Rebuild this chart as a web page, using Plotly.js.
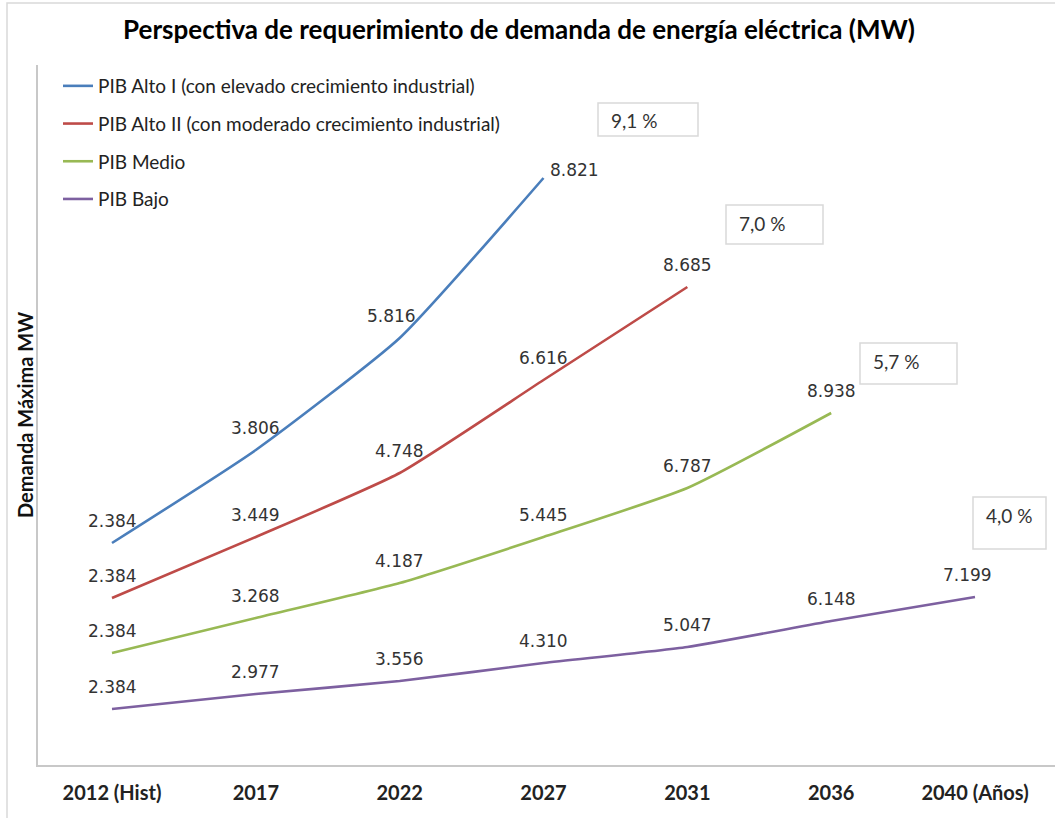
<!DOCTYPE html>
<html><head><meta charset="utf-8">
<script src="https://cdn.plot.ly/plotly-3.0.1.min.js"></script>
<style>html,body{margin:0;padding:0;background:#fff;} #chart{width:1055px;height:818px;}</style>
</head><body><div id="chart"></div>
<script>
// ---- data ----
const years = ['2012 (Hist)', '2017', '2022', '2027', '2031', '2036', '2040 (Años)'];
const seriesNames = [
  'PIB Alto I (con elevado crecimiento industrial)',
  'PIB Alto II (con moderado crecimiento industrial)',
  'PIB Medio',
  'PIB Bajo'
];
const altoIValues  = [2384, 3806, 5816, 8821];
const altoIIValues = [2384, 3449, 4748, 6616, 8685];
const medioValues  = [2384, 3268, 4187, 5445, 6787, 8938];
const bajoValues   = [2384, 2977, 3556, 4310, 5047, 6148, 7199];
// drawn height of each line (the chart shows no y scale; levels, arbitrary units)
const altoILevel  = [222, 315, 427, 587];
const altoIILevel = [167, 228, 292, 385, 478];
const medioLevel  = [112, 147, 182, 228, 277, 352];
const bajoLevel   = [56, 71, 84, 102, 118, 144, 168];
const growthRates = ['9,1 %', '7,0 %', '5,7 %', '4,0 %'];

// ---- styles ----
const colors = ['#4A7EBB', '#BE4B48', '#98B954', '#7D60A0'];
const PL = 38, PR = 1055, PT = 65, PB = 765;
const W = 1055, H = 818;
const px2x = p => (p - PL) / (PR - PL);
const px2y = p => (PB - p) / (PB - PT);
const calibri = 'Lato, "Liberation Sans", sans-serif';
const labelFont = {family: '"DejaVu Sans", Verdana, sans-serif', size: 17, color: '#333333'};
// label placement tweaks: [series, point] -> {xshift, yshift, xanchor}
const labelTweaks = {'0-2': {xshift: -8}, '0-3': {xanchor: 'left', xshift: 4, yshift: 8}, '3-6': {xshift: -8}};
// growth-rate boxes (pixel rectangles)
const boxRects = [[598, 103, 698, 136], [726, 205, 823, 244], [860, 343, 957, 384], [973, 497, 1046, 549]];

const allValues = [altoIValues, altoIIValues, medioValues, bajoValues];
const allLevels = [altoILevel, altoIILevel, medioLevel, bajoLevel];
const fmt = v => String(v).replace(/\B(?=(\d{3})+(?!\d))/g, '.');

const traces = allLevels.map((lv, s) => ({
  type: 'scatter', mode: 'lines', name: seriesNames[s],
  x: years.slice(0, lv.length), y: lv,
  line: {color: colors[s], width: 2.6, shape: 'spline', smoothing: 0.5},
  legendgroup: 'g' + s, hoverinfo: 'skip'
}));

const annotations = [];
allValues.forEach((vals, s) => {
  vals.forEach((v, i) => {
    const t = labelTweaks[s + '-' + i] || {};
    annotations.push({
      x: i, y: allLevels[s][i], xref: 'x', yref: 'y',
      text: fmt(v), showarrow: false, font: labelFont,
      xanchor: t.xanchor || 'center', yanchor: 'middle',
      xshift: t.xshift || 0, yshift: t.yshift !== undefined ? t.yshift : 22
    });
  });
});
const shapes = [];
boxRects.forEach((r, k) => {
  shapes.push({type: 'rect', xref: 'paper', yref: 'paper',
    x0: px2x(r[0]), x1: px2x(r[2]), y0: px2y(r[3]), y1: px2y(r[1]),
    line: {color: '#D9D9D9', width: 1.5}, fillcolor: 'rgba(0,0,0,0)'});
  annotations.push({xref: 'paper', yref: 'paper', x: px2x(r[0] + 11), y: px2y(r[1] + 18),
    xanchor: 'left', yanchor: 'middle', showarrow: false, text: growthRates[k],
    font: {family: calibri, size: 19, color: '#333333'}});
});
// y axis title
annotations.push({xref: 'paper', yref: 'paper', x: px2x(25), y: px2y(415), textangle: -90,
  text: 'Demanda Máxima MW', showarrow: false, xanchor: 'center', yanchor: 'middle',
  font: {family: calibri, size: 20, color: '#111111', weight: 'bold'}});
// outer chart border
shapes.push({type: 'rect', xref: 'paper', yref: 'paper', x0: px2x(7), x1: px2x(1060), y0: px2y(830), y1: px2y(3),
  line: {color: '#D9D9D9', width: 1.5}, fillcolor: 'rgba(0,0,0,0)', layer: 'below'});

const pxPerCat = (975 - 112) / 6;
const layout = {
  width: W, height: H, margin: {l: PL, r: W - PR, t: PT, b: H - PB, pad: 0},
  paper_bgcolor: '#ffffff', plot_bgcolor: '#ffffff',
  title: {text: 'Perspectiva de requerimiento de demanda de energía eléctrica (MW)',
    x: 519 / W, xanchor: 'center', y: 1 - 30 / H, yanchor: 'middle',
    font: {family: calibri, size: 26, color: '#000000', weight: 'bold'}},
  xaxis: {type: 'category', range: [-(112 - PL) / pxPerCat, 6 + (PR - 975) / pxPerCat],
    showgrid: false, zeroline: false, showline: true, linecolor: '#C8C8C8', linewidth: 2,
    ticks: '', ticklabelstandoff: 9,
    tickfont: {family: calibri, size: 20, color: '#222222', weight: 'bold'}},
  yaxis: {range: [0, PB - PT], showgrid: false, zeroline: false, showline: true, linecolor: '#C8C8C8', linewidth: 2,
    showticklabels: false, ticks: ''},
  showlegend: true,
  legend: {x: px2x(58), y: px2y(67), xanchor: 'left', yanchor: 'top', bgcolor: 'rgba(0,0,0,0)',
    font: {family: calibri, size: 19, color: '#222222'}, tracegroupgap: 10, itemwidth: 30},
  annotations: annotations, shapes: shapes
};
Plotly.newPlot('chart', traces, layout, {displayModeBar: false, staticPlot: true});
</script></body></html>
